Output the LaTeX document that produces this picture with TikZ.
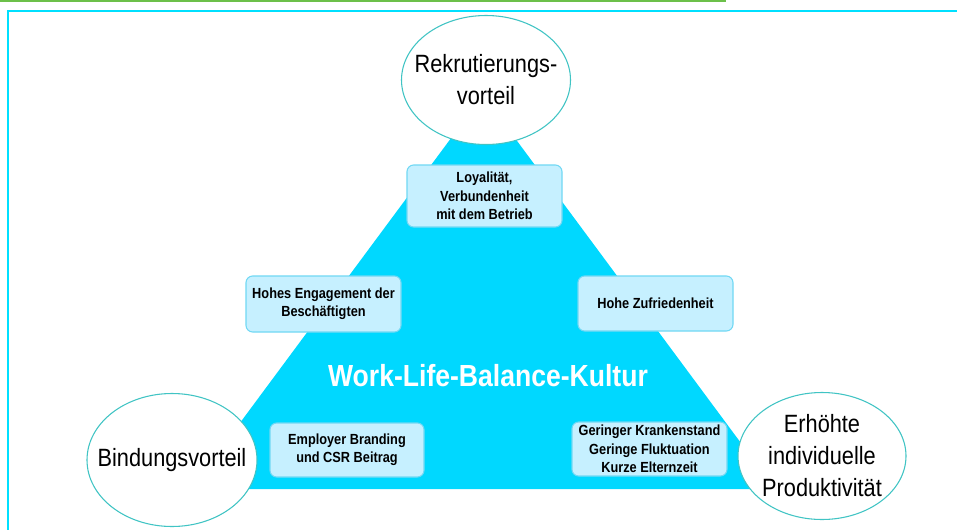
\documentclass[tikz,border=0pt]{standalone}
\usepackage{fontspec}
\setmainfont{Liberation Sans}[FakeStretch=0.87]
\usetikzlibrary{shapes.geometric}
\definecolor{trifill}{HTML}{00D8FF}
\definecolor{boxfill}{HTML}{C6F0FF}
\definecolor{boxline}{HTML}{70D8F4}
\definecolor{ellline}{HTML}{40C4C4}
\definecolor{framecol}{HTML}{00E0FF}
\definecolor{topline}{HTML}{6CC04A}
\tikzset{
  ell/.style={ellipse, draw=ellline, line width=0.8pt, fill=white, inner sep=0pt},
  elltext/.style={inner sep=0pt, align=center, font=\fontsize{18.75pt}{24pt}\selectfont},
  infobox/.style={rectangle, rounded corners=5pt, draw=boxline, line width=0.8pt, fill=boxfill,
    inner sep=0pt, align=center, font=\fontsize{11pt}{13.8pt}\selectfont\bfseries},
}
\begin{document}
\begin{tikzpicture}[x=0.75pt,y=-0.75pt]
\useasboundingbox (0,0) rectangle (957,529);
\fill[white] (0,0) rectangle (957,529);
\draw[topline, line width=1.5pt] (0,0.8) -- (726,0.8);
\draw[framecol, line width=1.2pt] (8,540) -- (8,11) -- (970,11);
\fill[trifill] (483,95) -- (775,489) -- (191,489) -- cycle;
\node[white, font=\fontsize{22.9pt}{27pt}\selectfont\bfseries] (title) at (488,376) {Work-Life-Balance-Kultur};
\node[ell, minimum width=126.75pt, minimum height=96.75pt] (rek) at (486,80) {};
\node[elltext] (rekt) at (rek) {Rekrutierungs-\\vorteil};
\node[ell, minimum width=127.5pt, minimum height=99.75pt] (bind) at (172,460) {};
\node[elltext] (bindt) at (bind) {Bindungsvorteil};
\node[ell, minimum width=126pt, minimum height=95.25pt] (prod) at (822,456) {};
\node[elltext] (prodt) at (prod) {Erhöhte\\individuelle\\Produktivität};
\node[infobox, minimum width=116.25pt, minimum height=46.5pt] (loy) at (484.5,196) {Loyalität,\\Verbundenheit\\mit dem Betrieb};
\node[infobox, minimum width=116.25pt, minimum height=42pt] (eng) at (323.5,304) {Hohes Engagement der\\Beschäftigten};
\node[infobox, minimum width=116.25pt, minimum height=41.25pt] (zuf) at (655.5,303.5) {Hohe Zufriedenheit};
\node[infobox, minimum width=115.5pt, minimum height=40.5pt] (emp) at (347,450) {Employer Branding\\und CSR Beitrag};
\node[infobox, minimum width=116.25pt, minimum height=40.5pt] (ger) at (649.5,449) {Geringer Krankenstand\\Geringe Fluktuation\\Kurze Elternzeit};
\end{tikzpicture}
\end{document}
